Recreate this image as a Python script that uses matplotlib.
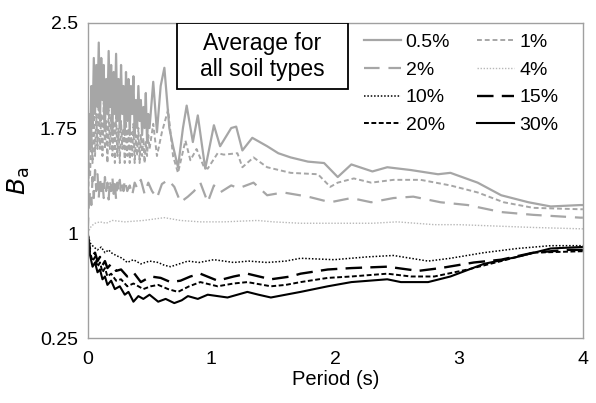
import matplotlib
matplotlib.use("Agg")
import matplotlib.pyplot as plt
from matplotlib.patches import Rectangle

plt.rcParams['font.family'] = ['Liberation Sans', 'DejaVu Sans']

# ---- data ----
labels = ["0.5%", "1%", "2%", "4%", "10%", "15%", "20%", "30%"]

x_05 = [0, 0.01, 0.02, 0.03, 0.04, 0.05, 0.06, 0.07, 0.08, 0.09, 0.10, 0.11, 0.12, 0.13,
        0.14, 0.15, 0.16, 0.17, 0.18, 0.19, 0.20, 0.21, 0.22, 0.23, 0.24, 0.25, 0.26,
        0.27, 0.28, 0.29, 0.30, 0.31, 0.32, 0.33, 0.34, 0.35, 0.36, 0.37, 0.38, 0.39,
        0.40, 0.41, 0.42, 0.43, 0.44, 0.45, 0.46, 0.47, 0.48, 0.49, 0.50,
        0.53, 0.56, 0.59, 0.62, 0.66, 0.69,
        0.73, 0.77, 0.80, 0.85, 0.89, 0.95, 1.02, 1.07, 1.16, 1.20, 1.25, 1.33, 1.45,
        1.54, 1.64, 1.78, 1.91, 2.02, 2.13, 2.30, 2.42, 2.61, 2.83, 2.93, 3.15, 3.34,
        3.56, 3.74, 3.98, 4.0]
y_05 = [1.0, 1.85, 1.6, 2.05, 1.75, 2.25, 1.85, 2.2, 1.9, 2.36, 1.8, 2.25, 1.95, 2.2,
        1.75, 2.1, 1.85, 2.3, 1.9, 2.2, 1.7, 2.15, 1.85, 2.28, 1.8, 2.1, 1.75,
        2.2, 1.85, 2.05, 1.7, 2.15, 1.8, 2.1, 1.7, 2.05, 1.85, 2.12, 1.7, 1.95,
        1.75, 2.05, 1.8, 1.95, 1.7, 1.9, 1.75, 2.0, 1.65, 1.85, 1.75,
        2.08, 1.72, 2.05, 2.18, 1.75, 1.62,
        1.47, 1.75, 1.91, 1.65, 1.84, 1.46, 1.77, 1.62, 1.75, 1.76, 1.59, 1.68, 1.62,
        1.57, 1.54, 1.51, 1.50, 1.40, 1.49, 1.44, 1.47, 1.45, 1.42, 1.43, 1.36, 1.27,
        1.22, 1.19, 1.20, 1.20]

x_1 = [0, 0.01, 0.02, 0.03, 0.04, 0.05, 0.06, 0.07, 0.08, 0.09, 0.10, 0.11, 0.12, 0.13,
       0.14, 0.15, 0.16, 0.17, 0.18, 0.19, 0.20, 0.21, 0.22, 0.23, 0.24, 0.25, 0.26,
       0.27, 0.28, 0.29, 0.30, 0.31, 0.32, 0.33, 0.34, 0.35, 0.36, 0.37, 0.38, 0.39,
       0.40, 0.41, 0.42, 0.43, 0.44, 0.45, 0.46, 0.47, 0.48, 0.49, 0.50,
       0.53, 0.56, 0.60, 0.65, 0.69, 0.73, 0.79, 0.83, 0.88, 0.94, 0.97,
       1.05, 1.10, 1.21, 1.25, 1.34, 1.45, 1.64, 1.86, 1.96, 2.02, 2.15, 2.29, 2.47,
       2.69, 2.93, 3.15, 3.36, 3.60, 3.98, 4.0]
y_1 = [1.0, 1.5, 1.4, 1.75, 1.5, 1.9, 1.55, 1.85, 1.6, 2.0, 1.6, 1.85, 1.55, 1.95,
       1.6, 1.8, 1.5, 1.9, 1.6, 1.85, 1.55, 1.8, 1.5, 1.85, 1.55, 1.75, 1.5,
       1.8, 1.6, 1.75, 1.5, 1.8, 1.55, 1.75, 1.5, 1.72, 1.55, 1.78, 1.5, 1.7,
       1.55, 1.75, 1.5, 1.7, 1.55, 1.68, 1.5, 1.65, 1.55, 1.7, 1.6,
       1.78, 1.55, 1.72, 1.88, 1.55, 1.43, 1.66, 1.52, 1.60, 1.47, 1.46,
       1.57, 1.56, 1.57, 1.47, 1.54, 1.47, 1.43, 1.42, 1.33, 1.36, 1.39, 1.36, 1.38,
       1.38, 1.34, 1.29, 1.22, 1.18, 1.17, 1.17]

x_2 = [0, 0.01, 0.02, 0.03, 0.04, 0.05, 0.06, 0.07, 0.08, 0.09, 0.10, 0.11, 0.12, 0.13,
       0.14, 0.15, 0.16, 0.17, 0.18, 0.19, 0.20, 0.21, 0.22, 0.23, 0.24, 0.25, 0.26,
       0.27, 0.28, 0.29, 0.30, 0.32, 0.34, 0.36, 0.38, 0.40, 0.43, 0.46, 0.49, 0.52,
       0.56, 0.60, 0.65, 0.70, 0.75, 0.81, 0.86, 0.91, 0.97, 1.02, 1.07, 1.16, 1.22,
       1.34, 1.45, 1.58, 1.78, 1.96, 2.13, 2.29, 2.47, 2.63, 2.85, 3.07, 3.34, 3.60,
       3.98, 4.0]
y_2 = [1.0, 1.2, 1.3, 1.2, 1.4, 1.25, 1.45, 1.3, 1.42, 1.25, 1.4, 1.3, 1.38, 1.25,
       1.4, 1.3, 1.36, 1.24, 1.38, 1.3, 1.4, 1.28, 1.35, 1.24, 1.36, 1.3, 1.38,
       1.28, 1.34, 1.3, 1.38, 1.30, 1.34, 1.27, 1.36, 1.32, 1.38, 1.28, 1.36, 1.30,
       1.25, 1.35, 1.38, 1.33, 1.22, 1.26, 1.30, 1.36, 1.22, 1.34, 1.29, 1.34, 1.32,
       1.36, 1.27, 1.29, 1.26, 1.22, 1.25, 1.22, 1.25, 1.26, 1.22, 1.20, 1.15, 1.13,
       1.11, 1.11]

x_4 = [0, 0.03, 0.06, 0.10, 0.15, 0.20, 0.30, 0.45, 0.62, 0.75, 0.91, 1.1, 1.37, 1.5,
       1.72, 2.0, 2.3, 2.5, 2.8, 3.0, 3.3, 3.6, 4.0]
y_4 = [1.0, 1.05, 1.07, 1.08, 1.07, 1.09, 1.08, 1.09, 1.11, 1.09, 1.08, 1.08, 1.09, 1.08,
       1.07, 1.07, 1.07, 1.08, 1.06, 1.06, 1.05, 1.04, 1.03]

x_10 = [0, 0.02, 0.05, 0.08, 0.11, 0.14, 0.17, 0.19, 0.23, 0.28, 0.32, 0.37, 0.43, 0.50,
        0.57, 0.62, 0.67, 0.74, 0.81, 0.90, 1.02, 1.10, 1.18, 1.30, 1.45, 1.60, 1.72,
        1.99, 2.26, 2.47, 2.75, 2.93, 3.20, 3.47, 3.74, 3.98, 4.0]
y_10 = [1.0, 0.93, 0.90, 0.88, 0.90, 0.86, 0.88, 0.86, 0.84, 0.82, 0.79, 0.81, 0.78, 0.80,
        0.79, 0.77, 0.76, 0.78, 0.80, 0.79, 0.81, 0.80, 0.79, 0.80, 0.79, 0.80, 0.82,
        0.81, 0.83, 0.84, 0.80, 0.82, 0.86, 0.89, 0.91, 0.91, 0.91]

x_15 = [0, 0.02, 0.04, 0.06, 0.08, 0.10, 0.12, 0.14, 0.16, 0.19, 0.23, 0.27, 0.32, 0.37,
        0.43, 0.51, 0.59, 0.67, 0.75, 0.83, 0.91, 1.05, 1.18, 1.29, 1.48, 1.64, 1.72,
        1.94, 2.13, 2.42, 2.67, 2.85, 3.12, 3.34, 3.60, 3.88, 4.0]
y_15 = [1.0, 0.88, 0.84, 0.86, 0.80, 0.83, 0.77, 0.80, 0.75, 0.78, 0.73, 0.74, 0.69, 0.72,
        0.65, 0.69, 0.68, 0.65, 0.66, 0.69, 0.71, 0.66, 0.69, 0.71, 0.67, 0.69, 0.71,
        0.74, 0.75, 0.76, 0.73, 0.75, 0.79, 0.81, 0.86, 0.88, 0.88]

x_20 = [0, 0.02, 0.04, 0.06, 0.08, 0.10, 0.12, 0.14, 0.16, 0.19, 0.23, 0.27, 0.32, 0.37,
        0.45, 0.51, 0.57, 0.65, 0.73, 0.82, 0.91, 1.05, 1.18, 1.29, 1.48, 1.60, 1.72,
        1.94, 2.13, 2.42, 2.61, 2.80, 3.07, 3.34, 3.60, 3.98, 4.0]
y_20 = [1.0, 0.86, 0.80, 0.83, 0.76, 0.79, 0.72, 0.75, 0.69, 0.71, 0.66, 0.67, 0.62, 0.64,
        0.60, 0.62, 0.63, 0.60, 0.58, 0.62, 0.65, 0.62, 0.64, 0.65, 0.62, 0.63, 0.65,
        0.68, 0.69, 0.71, 0.69, 0.69, 0.74, 0.80, 0.86, 0.87, 0.87]

x_30 = [0, 0.02, 0.04, 0.06, 0.08, 0.10, 0.12, 0.14, 0.16, 0.19, 0.22, 0.26, 0.30, 0.33,
        0.37, 0.41, 0.45, 0.50, 0.57, 0.63, 0.70, 0.76, 0.81, 0.89, 0.97, 1.05, 1.13,
        1.21, 1.29, 1.38, 1.48, 1.60, 1.72, 1.94, 2.13, 2.42, 2.53, 2.75, 2.93, 3.20,
        3.47, 3.74, 3.98, 4.0]
y_30 = [1.0, 0.84, 0.76, 0.79, 0.72, 0.74, 0.67, 0.69, 0.63, 0.66, 0.60, 0.62, 0.56, 0.58,
        0.51, 0.55, 0.53, 0.56, 0.51, 0.53, 0.50, 0.52, 0.55, 0.53, 0.56, 0.55, 0.54,
        0.56, 0.58, 0.56, 0.54, 0.56, 0.58, 0.62, 0.65, 0.67, 0.65, 0.65, 0.69, 0.78,
        0.83, 0.89, 0.90, 0.90]

series_x = [x_05, x_1, x_2, x_4, x_10, x_15, x_20, x_30]
series_y = [y_05, y_1, y_2, y_4, y_10, y_15, y_20, y_30]

x_ticks = [0, 1, 2, 3, 4]
y_ticks = [0.25, 1, 1.75, 2.5]
y_tick_labels = ["0.25", "1", "1.75", "2.5"]

# ---- styles ----
GRAY = "#a6a6a6"
styles = [
    dict(color=GRAY, ls="-", lw=1.6),
    dict(color=GRAY, ls=(0, (2.5, 1.5)), lw=1.4),
    dict(color=GRAY, ls=(0, (7, 4)), lw=1.6),
    dict(color="#b8b8b8", ls=(0, (1, 1.2)), lw=1.0),
    dict(color="black", ls=(0, (1, 1.2)), lw=1.1),
    dict(color="black", ls=(0, (7, 3.5)), lw=1.7),
    dict(color="black", ls=(0, (2.5, 1.3)), lw=1.4),
    dict(color="black", ls="-", lw=1.5),
]

fig = plt.figure(figsize=(5.96, 4.03), dpi=100)
ax = fig.add_axes([0.147, 0.161, 0.831, 0.782])

handles = []
for xs, ys, lab, st in zip(series_x, series_y, labels, styles):
    h, = ax.plot(xs, ys, label=lab, **st)
    handles.append(h)

ax.set_xlim(0, 4)
ax.set_ylim(0.25, 2.5)
ax.set_xticks(x_ticks)
ax.set_yticks(y_ticks)
ax.set_yticklabels(y_tick_labels)
ax.tick_params(length=0, labelsize=14, pad=7)
ax.tick_params(axis="x", pad=9)
for sp in ax.spines.values():
    sp.set_color("#a0a0a0")
    sp.set_linewidth(1.0)

ax.set_xlabel("Period (s)", fontsize=14.5, labelpad=2)
ax.set_ylabel(r"$B_{\mathrm{a}}$", fontsize=18, labelpad=6)

# legend order: row-wise two columns
order = [0, 2, 4, 6, 1, 3, 5, 7]
leg = ax.legend([handles[i] for i in order], [labels[i] for i in order], ncol=2,
                loc="upper left", bbox_to_anchor=(0.542, 0.992), frameon=False,
                fontsize=14, handlelength=1.9, handletextpad=0.25,
                columnspacing=1.4, labelspacing=0.52, borderaxespad=0)

ax.add_patch(Rectangle((0.180, 0.791), 0.345, 0.209, transform=ax.transAxes,
                       fc="white", ec="black", lw=1.3, zorder=5))
ax.text(0.3525, 0.894, "Average for\nall soil types", transform=ax.transAxes,
        fontsize=16.5, ha="center", va="center", linespacing=1.15, zorder=6)

fig.savefig("out.png", dpi=100)
